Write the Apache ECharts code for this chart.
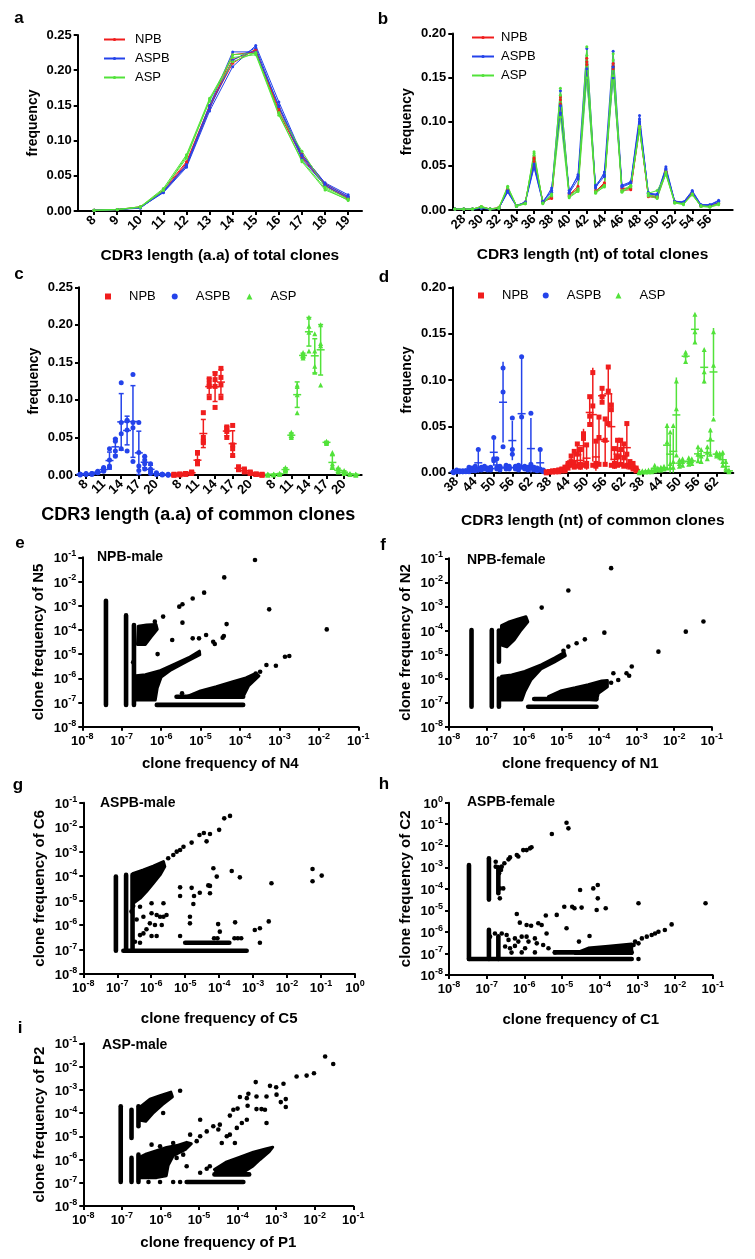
<!DOCTYPE html>
<html><head><meta charset="utf-8">
<script src="https://cdn.jsdelivr.net/npm/echarts@6/dist/echarts.min.js"></script>
<style>html,body{margin:0;padding:0;background:#fff}#c{width:755px;height:1259px}</style>
</head><body><div id="c"></div>
<script>
// ---------------- DATA ----------------
const groups = ['NPB', 'ASPB', 'ASP'];
// panel a: CDR3 aa length, total clones (3 samples per group)
const aCats = [8, 9, 10, 11, 12, 13, 14, 15, 16, 17, 18, 19];
const aNPB = [
  [0.001,0.002,0.005,0.030,0.070,0.150,0.215,0.228,0.142,0.078,0.037,0.018],
  [0.001,0.002,0.005,0.027,0.065,0.145,0.222,0.226,0.146,0.081,0.039,0.020],
  [0.001,0.002,0.006,0.028,0.068,0.148,0.210,0.230,0.140,0.076,0.036,0.017]];
const aASPB = [
  [0.001,0.002,0.005,0.026,0.062,0.142,0.205,0.235,0.155,0.080,0.040,0.023],
  [0.001,0.002,0.004,0.028,0.066,0.150,0.226,0.226,0.150,0.078,0.038,0.021],
  [0.001,0.002,0.005,0.027,0.064,0.146,0.214,0.232,0.148,0.074,0.036,0.019]];
const aASP = [
  [0.001,0.002,0.006,0.032,0.080,0.160,0.218,0.222,0.136,0.072,0.032,0.015],
  [0.001,0.002,0.006,0.030,0.075,0.158,0.212,0.225,0.138,0.070,0.030,0.016],
  [0.001,0.002,0.005,0.029,0.078,0.156,0.222,0.224,0.140,0.085,0.034,0.017]];
const aTicks = [8, 9, 10, 11, 12, 13, 14, 15, 16, 17, 18, 19];

// panel b: CDR3 nt length, total clones
const bCats = [27,28,29,30,31,32,33,34,35,36,37,38,39,40,41,42,43,44,45,46,47,48,49,50,51,52,53,54,55,56,57];
const bNPB = [
  [.001,.001,.001,.003,.001,.002,.024,.005,.008,.055,.009,.015,.128,.016,.025,.172,.022,.028,.166,.024,.025,.095,.016,.015,.043,.009,.008,.019,.005,.005,.008],
  [.001,.001,.001,.004,.001,.002,.022,.004,.009,.060,.010,.013,.120,.018,.023,.165,.020,.030,.160,.022,.023,.092,.015,.014,.042,.009,.007,.018,.004,.004,.007],
  [.001,.001,.001,.003,.001,.003,.023,.005,.008,.058,.009,.014,.125,.017,.027,.168,.021,.031,.163,.025,.024,.094,.017,.015,.044,.010,.008,.019,.005,.005,.008]];
const bASPB = [
  [.001,.001,.001,.002,.001,.002,.022,.005,.009,.052,.010,.022,.135,.020,.040,.183,.025,.043,.180,.028,.032,.107,.018,.017,.049,.010,.009,.021,.006,.006,.010],
  [.001,.001,.001,.002,.001,.002,.020,.004,.008,.048,.008,.025,.110,.022,.038,.150,.028,.040,.150,.026,.030,.100,.020,.016,.046,.009,.008,.020,.005,.005,.009],
  [.001,.001,.001,.003,.001,.002,.021,.005,.009,.050,.009,.020,.118,.019,.035,.160,.026,.038,.162,.027,.031,.103,.019,.018,.047,.010,.009,.022,.006,.006,.011]];
const bASP = [
  [.001,.001,.001,.004,.001,.003,.027,.005,.007,.066,.008,.018,.138,.015,.022,.185,.020,.026,.177,.021,.027,.095,.016,.013,.041,.008,.006,.018,.004,.004,.007],
  [.001,.001,.001,.004,.001,.002,.025,.004,.007,.062,.007,.016,.105,.014,.021,.150,.019,.027,.152,.020,.026,.090,.019,.022,.040,.008,.007,.017,.004,.003,.006],
  [.001,.001,.001,.003,.001,.002,.026,.005,.008,.064,.008,.017,.130,.016,.024,.175,.021,.028,.170,.022,.028,.093,.017,.015,.043,.009,.007,.018,.005,.004,.007]];
const bTicks = [28,30,32,34,36,38,40,42,44,46,48,50,52,54,56];

// panel c: CDR3 aa length of common clones (v = 7..22), 4 samples
const cLens = [7,8,9,10,11,12,13,14,15,16,17,18,19,20,21,22];
const cTickLens = [8, 11, 14, 17, 20];
const cASPB = [[.001,.001,.001,.000],[.001,.002,.001,.001],[.002,.002,.001,.001],[.005,.004,.003,.003],[.010,.008,.006,.005],[.035,.020,.012,.010],[.048,.045,.032,.025],[.123,.055,.070,.035],[.073,.072,.060,.032],[.134,.070,.063,.018],[.070,.030,.012,.006],[.025,.020,.015,.008],[.015,.008,.005,.002],[.003,.002,.001,.001],[.001,.001,.001,.000],[.001,.000,.000,.000]];
const cNPB = [[.000,.000,.001,.000],[.001,.001,.001,.000],[.002,.002,.001,.001],[.004,.003,.003,.002],[.030,.018,.016,.015],[.083,.043,.045,.050],[.128,.118,.103,.122],[.135,.127,.090,.118],[.142,.130,.103,.120],[.064,.062,.058,.050],[.066,.040,.026,.035],[.011,.010,.008,.007],[.008,.006,.005,.004],[.004,.003,.002,.002],[.001,.001,.001,.001],[.001,.000,.000,.000]];
const cASP = [[.001,.001,.000,.000],[.001,.001,.001,.000],[.002,.002,.001,.001],[.010,.008,.006,.005],[.057,.052,.050,.053],[.120,.118,.083,.107],[.163,.158,.160,.156],[.210,.198,.165,.190],[.188,.165,.137,.145],[.200,.172,.120,.175],[.045,.044,.043,.042],[.030,.015,.010,.012],[.010,.006,.005,.004],[.006,.004,.003,.002],[.002,.001,.001,.001],[.001,.001,.000,.000]];

// panel d: CDR3 nt length of common clones (v = 37..66), 3 samples
const dLens = [37,38,39,40,41,42,43,44,45,46,47,48,49,50,51,52,53,54,55,56,57,58,59,60,61,62,63,64,65,66];
const dTickLens = [38, 44, 50, 56, 62];
const dASPB = [[.001,.001,.000],[.003,.001,.001],[.002,.001,.001],[.002,.001,.001],[.002,.002,.001],[.006,.002,.001],[.005,.003,.002],[.007,.004,.002],[.025,.004,.003],[.006,.005,.003],[.007,.005,.004],[.005,.004,.003],[.006,.004,.003],[.038,.015,.013],[.015,.006,.004],[.007,.005,.003],[.113,.087,.028],[.008,.006,.004],[.007,.005,.004],[.059,.025,.020],[.007,.006,.004],[.008,.005,.003],[.125,.060,.006],[.007,.005,.004],[.006,.005,.003],[.064,.009,.005],[.006,.004,.003],[.005,.003,.002],[.025,.004,.003],[.003,.002,.001]];
const dNPB = [[.001,.000,.000],[.001,.001,.001],[.002,.001,.001],[.002,.002,.001],[.003,.002,.001],[.004,.003,.002],[.006,.003,.002],[.010,.008,.005],[.018,.012,.008],[.023,.010,.006],[.031,.020,.007],[.025,.009,.006],[.042,.037,.008],[.030,.010,.007],[.082,.061,.052],[.108,.072,.008],[.034,.010,.007],[.060,.038,.009],[.091,.082,.076],[.058,.035,.009],[.114,.088,.053],[.073,.068,.008],[.026,.010,.007],[.035,.017,.008],[.035,.025,.009],[.031,.016,.007],[.053,.020,.008],[.012,.008,.006],[.010,.006,.004],[.005,.003,.002]];
const dASP = [[.001,.001,.000],[.002,.001,.001],[.002,.001,.001],[.003,.002,.001],[.003,.002,.001],[.008,.004,.002],[.005,.004,.003],[.006,.005,.003],[.007,.005,.004],[.051,.033,.005],[.044,.010,.006],[.051,.012,.006],[.099,.069,.019],[.014,.010,.007],[.015,.012,.008],[.130,.127,.120],[.016,.012,.009],[.015,.013,.010],[.171,.152,.141],[.028,.020,.013],[.025,.018,.012],[.133,.109,.099],[.028,.022,.015],[.046,.037,.020],[.152,.116,.058],[.022,.020,.018],[.021,.019,.017],[.022,.012,.008],[.012,.005,.003],[.003,.002,.001]];

// panels e-i: log10(clone frequency). cols: [log x, log y from, log y to] (dense columns of points)
// rows: [log x from, log x to, log y] (dense rows), blobs: dense regions (outline, log units), pts: single clones
const eCols = [[-7.40,-7.10,-2.80],[-6.89,-7.10,-3.40],[-6.69,-7.10,-3.80]];
const eRows = [[-6.11,-3.92,-7.10],[-5.61,-3.92,-6.76]];
const eBlobs = [
  [[-6.60,-4.60],[-6.58,-3.85],[-6.37,-3.80],[-6.13,-3.78],[-6.10,-3.98],[-6.26,-4.30],[-6.40,-4.60]],
  [[-6.70,-6.90],[-6.70,-5.90],[-6.40,-5.85],[-6.05,-5.70],[-5.70,-5.45],[-5.30,-5.15],[-5.03,-4.88],[-5.02,-5.02],[-5.35,-5.30],[-5.75,-5.65],[-6.00,-5.95],[-6.10,-6.40],[-6.15,-6.90]],
  [[-5.35,-6.76],[-5.00,-6.52],[-4.60,-6.35],[-4.20,-6.15],[-3.85,-5.98],[-3.60,-5.80],[-3.52,-5.90],[-3.78,-6.30],[-3.92,-6.76]]];
const ePts = [[-3.62,-1.11],[-4.40,-1.83],[-4.91,-2.46],[-5.20,-2.70],[-5.46,-2.94],[-5.54,-3.04],[-5.95,-3.45],[-6.16,-3.66],[-5.46,-3.70],[-4.34,-3.76],[-3.26,-3.15],[-1.80,-3.98],[-5.72,-4.42],[-5.20,-4.35],[-5.04,-4.35],[-4.86,-4.21],[-4.68,-4.49],[-4.64,-4.58],[-4.44,-4.32],[-4.41,-4.25],[-6.09,-5.00],[-2.86,-5.11],[-2.75,-5.08],[-3.33,-5.45],[-3.09,-5.48],[-3.60,-5.80],[-3.49,-5.73],[-5.47,-6.62],[-6.71,-5.34]];

const fCols = [[-7.40,-7.17,-3.98],[-6.86,-7.17,-3.98],[-6.67,-7.17,-6.00],[-6.67,-5.30,-4.00]];
const fRows = [[-5.89,-4.07,-7.17],[-5.73,-4.07,-6.85]];
const fBlobs = [
  [[-6.62,-4.60],[-6.60,-3.80],[-6.42,-3.66],[-6.15,-3.52],[-5.95,-3.43],[-5.90,-3.64],[-6.08,-3.98],[-6.26,-4.38],[-6.46,-4.68]],
  [[-6.60,-6.89],[-6.60,-5.90],[-6.33,-5.85],[-5.98,-5.70],[-5.53,-5.42],[-5.18,-5.14],[-4.93,-4.92],[-4.90,-5.05],[-5.20,-5.32],[-5.55,-5.60],[-5.82,-6.06],[-5.98,-6.54],[-6.06,-6.89]],
  [[-5.35,-6.75],[-5.00,-6.50],[-4.64,-6.38],[-4.29,-6.25],[-3.93,-6.10],[-3.78,-6.08],[-3.78,-6.34],[-4.02,-6.61],[-4.07,-6.89]]];
const fPts = [[-3.68,-1.41],[-4.82,-2.34],[-5.53,-3.05],[-3.86,-4.09],[-4.38,-4.37],[-4.60,-4.53],[-4.82,-4.67],[-4.95,-4.84],[-1.22,-3.63],[-1.69,-4.05],[-2.42,-4.88],[-3.13,-5.50],[-3.27,-5.78],[-3.20,-5.88],[-3.62,-5.78],[-3.49,-6.06],[-3.68,-6.17],[-3.83,-6.16]];

const gCols = [[-7.04,-7.05,-4.02],[-6.74,-7.05,-3.95],[-6.55,-7.05,-3.95]];
const gRows = [[-6.82,-3.19,-7.05],[-5.00,-3.70,-6.72]];
const gBlobs = [
  [[-6.53,-3.89],[-6.23,-3.75],[-5.94,-3.59],[-5.64,-3.41],[-5.60,-3.61],[-5.74,-3.95],[-5.94,-4.29],[-6.14,-4.63],[-6.33,-4.91],[-6.53,-5.11]]];
const gPts = [[-3.68,-1.54],[-3.85,-1.64],[-4.00,-2.11],[-4.27,-2.28],[-4.45,-2.24],[-4.58,-2.32],[-4.37,-2.58],[-4.81,-2.63],[-5.15,-2.93],[-5.35,-3.14],[-5.50,-3.27],[-5.25,-3.00],[-5.05,-2.80],
  [-4.17,-3.68],[-4.07,-4.02],[-3.63,-3.79],[-3.39,-4.05],[-1.25,-3.71],[-1.25,-4.21],[-0.98,-3.98],[-2.46,-4.29],[-5.15,-4.46],[-4.81,-4.48],[-4.74,-4.81],[-4.76,-5.14],[-4.57,-4.68],[-4.32,-4.38],[-4.27,-4.40],[-4.27,-4.70],[-5.15,-4.81],[-4.86,-5.66],[-4.86,-5.93],[-4.03,-5.96],[-3.98,-6.27],[-3.53,-5.89],[-2.95,-6.20],[-2.80,-6.13],[-2.54,-5.85],[-2.80,-6.72],[-5.15,-6.45],[-5.64,-5.11],
  [-5.99,-5.11],[-5.84,-5.59],[-6.23,-5.66],[-6.04,-5.93],[-5.89,-6.00],[-6.33,-6.41],[-5.99,-6.45],[-5.74,-5.66],[-5.55,-5.59],[-5.69,-6.00],[-6.53,-5.22],[-6.33,-5.25],[-6.58,-5.45],[-6.43,-5.77],[-6.14,-6.17],[-6.48,-6.68],[-6.33,-6.72],[-6.23,-6.34],[-5.84,-6.45],[-5.99,-5.52],[-5.64,-5.66],
  [-3.55,-6.54],[-3.45,-6.54],[-3.35,-6.54],[-4.15,-6.54],[-4.05,-6.54]];

const hCols = [[-7.47,-7.26,-2.89],[-6.94,-7.26,-5.90],[-6.94,-4.50,-2.58],[-6.69,-7.26,-6.20],[-6.69,-4.20,-3.00]];
const hRows = [[-7.47,-3.15,-7.26],[-5.19,-3.15,-6.95]];
const hBlobs = [[[-4.65,-7.00],[-4.30,-6.75],[-3.77,-6.66],[-3.15,-6.56],[-3.15,-7.00]]];
const hPts = [[-6.62,-3.12],[-6.60,-2.97],[-6.53,-2.81],[-6.42,-2.63],[-6.38,-2.54],[-6.20,-2.43],[-6.16,-2.50],[-6.03,-2.20],[-5.94,-2.20],[-5.85,-2.12],[-5.81,-2.07],[-6.76,-2.74],[-6.76,-2.97],[-6.67,-3.28],[-6.65,-3.98],[-6.56,-3.98],[-6.65,-4.44],
  [-4.88,-0.93],[-4.83,-1.19],[-5.27,-1.45],[-4.52,-4.05],[-4.17,-3.98],[-4.05,-3.82],[-4.05,-4.44],[-4.08,-4.98],[-3.84,-4.90],[-2.97,-4.67],[-1.19,-4.67],[-4.94,-4.83],[-4.73,-4.83],[-4.67,-4.90],[-4.48,-4.87],[-5.43,-5.24],[-5.14,-5.21],[-6.20,-5.17],[-6.12,-5.57],[-5.94,-5.68],[-5.82,-5.71],[-5.63,-5.60],[-5.54,-5.68],[-4.88,-5.83],[-5.41,-6.07],[-4.27,-6.19],[-4.55,-6.45],[-5.72,-6.30],[-5.67,-6.53],[-5.50,-6.61],[-5.36,-6.76],[-6.07,-6.95],[-5.72,-6.95],[-5.19,-6.95],
  [-6.91,-6.22],[-6.78,-6.07],[-6.60,-6.07],[-6.47,-6.14],[-6.42,-6.37],[-6.25,-6.30],[-6.16,-6.45],[-6.07,-6.22],[-5.94,-6.22],[-5.89,-6.45],[-6.51,-6.68],[-6.38,-6.76],[-6.25,-6.65],[-5.98,-6.76],[-6.34,-6.96],
  [-3.06,-6.45],[-2.88,-6.30],[-2.62,-6.14],[-2.44,-5.99],[-2.27,-5.91],[-2.09,-5.65],[-2.75,-6.22],[-2.53,-6.07],[-3.10,-6.61],[-2.97,-6.53],[-2.97,-7.26]];

const iCols = [[-7.03,-6.97,-3.71],[-6.75,-6.97,-5.93],[-6.75,-5.07,-3.86],[-6.57,-6.97,-5.79],[-6.57,-4.57,-3.71]];
const iRows = [[-5.32,-3.85,-6.97],[-4.60,-3.70,-6.64]];
const iBlobs = [
  [[-6.55,-4.30],[-6.53,-3.75],[-6.27,-3.40],[-6.01,-3.25],[-5.73,-3.10],[-5.69,-3.30],[-5.95,-3.64],[-6.18,-3.98],[-6.38,-4.35]],
  [[-6.53,-5.90],[-6.36,-5.76],[-6.10,-5.62],[-5.84,-5.48],[-5.58,-5.40],[-5.32,-5.26],[-5.20,-5.32],[-5.34,-5.55],[-5.67,-5.84],[-5.80,-6.25],[-5.85,-6.70],[-6.10,-6.78],[-6.53,-6.78]],
  [[-4.60,-6.43],[-4.28,-6.10],[-3.94,-5.90],[-3.59,-5.68],[-3.25,-5.53],[-3.09,-5.47],[-3.18,-5.66],[-3.42,-6.00],[-3.60,-6.28],[-3.85,-6.55],[-4.11,-6.62],[-4.52,-6.62]]];
const iPts = [[-1.73,-1.57],[-1.52,-1.89],[-2.02,-2.29],[-2.21,-2.39],[-2.47,-2.43],[-2.81,-2.74],[-3.00,-2.89],[-3.16,-2.83],[-3.53,-2.67],[-2.75,-3.40],[-2.75,-3.74],[-2.88,-3.53],[-2.99,-3.21],[-3.25,-3.29],[-3.51,-3.29],[-3.72,-3.17],[-3.76,-3.36],[-3.94,-3.31],[-3.38,-3.83],[-3.25,-4.43],[-3.29,-3.86],[-3.51,-3.83],[-3.74,-3.69],[-4.00,-3.81],[-4.11,-3.86],[-4.20,-4.11],[-4.02,-4.64],[-3.89,-4.43],[-3.76,-4.29],[-4.28,-5.00],[-4.20,-4.93],[-4.41,-5.29],[-4.07,-5.29],[-4.50,-4.71],[-4.63,-4.57],[-4.80,-4.79],[-4.97,-4.29],[-4.46,-4.50],[-5.49,-3.04],[-5.93,-4.00],[-5.23,-4.93],[-5.06,-5.21],[-4.97,-5.00],[-5.58,-5.93],[-5.41,-5.79],[-5.32,-6.29],[-6.23,-5.36],[-6.01,-5.43],[-5.67,-5.29],[-4.97,-6.57],[-4.80,-6.40],[-4.72,-6.29],[-6.31,-6.97],[-6.01,-6.97],[-5.67,-6.97],[-5.49,-6.97]];

// ---------------- STYLE / LAYOUT ----------------
const RED = '#f01d1d', BLUE = '#2443ea', GREEN = '#52e23a';
const COL = {NPB: RED, ASPB: BLUE, ASP: GREEN};
const FONT = 'Liberation Sans';
const grids = [
  {left: 77.7, top: 35, width: 284.3, height: 176},     // a
  {left: 452.3, top: 33.5, width: 280.4, height: 176.5},// b
  {left: 79, top: 287.3, width: 282.7, height: 187.7},  // c
  {left: 452.3, top: 287.3, width: 281, height: 185.4}, // d
  {left: 82.3, top: 557.3, width: 276, height: 169.4},  // e
  {left: 449, top: 558.3, width: 262.7, height: 168.4}, // f
  {left: 83.3, top: 802.7, width: 271.7, height: 171.3},// g
  {left: 449, top: 802.7, width: 263.7, height: 172.3}, // h
  {left: 83.3, top: 1043.3, width: 270, height: 162.7}  // i
];
const axLine = {show: true, onZero: false, lineStyle: {color: '#000', width: 2}};
const axTick = {show: true, length: 4, lineStyle: {color: '#000', width: 2}};
const lblBold = {color: '#000', fontFamily: FONT, fontWeight: 'bold', fontSize: 13};
const nameStyle = {color: '#000', fontFamily: FONT, fontWeight: 'bold', fontSize: 14};
const titleStyle = {color: '#000', fontFamily: FONT, fontWeight: 'bold', fontSize: 15.5};
const sNameStyle = {color: '#000', fontFamily: FONT, fontWeight: 'bold', fontSize: 15};

function freqY(gi, max, name) {
  return {type: 'value', gridIndex: gi, min: 0, max: max, interval: 0.05,
    axisLine: axLine, axisTick: axTick, splitLine: {show: false},
    axisLabel: Object.assign({margin: 6, formatter: v => v.toFixed(2)}, lblBold),
    name: name, nameLocation: 'middle', nameGap: 38, nameTextStyle: nameStyle};
}
// tick labels: the axis ends carry empty labels so that no real label is dropped as overlapping
function catX(gi, min, max, ticks, lblOf, name, gap, nstyle) {
  const lblVals = [min].concat(ticks, [max]);
  return {type: 'value', gridIndex: gi, min: min, max: max,
    axisLine: axLine, axisTick: Object.assign({customValues: ticks}, axTick), splitLine: {show: false},
    axisLabel: Object.assign({customValues: lblVals, rotate: 45, margin: 7,
      formatter: v => (ticks.indexOf(v) >= 0 ? lblOf(v) : ''),
      showMinLabel: true, showMaxLabel: true, hideOverlap: false}, lblBold),
    name: name, nameLocation: 'middle', nameGap: gap, nameTextStyle: nstyle || titleStyle};
}
const expRich = {b: {fontSize: 13, fontWeight: 'bold', fontFamily: FONT, color: '#000', lineHeight: 16, verticalAlign: 'bottom'},
                 s: {fontSize: 9, fontWeight: 'bold', fontFamily: FONT, color: '#000', lineHeight: 16, verticalAlign: 'top', padding: [0, 0, 4, 0]}};
function expFmt(v) { return '{b|10}{s|' + v + '}'; }
function logAx(gi, min, max, name, gap, isY) {
  return {type: 'value', gridIndex: gi, min: min, max: max, interval: 1,
    axisLine: axLine, axisTick: axTick, splitLine: {show: false},
    axisLabel: {margin: isY ? 6 : 5, formatter: expFmt, rich: expRich, showMinLabel: true, showMaxLabel: true},
    name: name, nameLocation: 'middle', nameGap: gap, nameTextStyle: sNameStyle};
}

const xAxes = [
  catX(0, 7.29, 19.6, aTicks, v => String(v), 'CDR3 length (a.a) of total clones', 37),
  catX(1, 26.7, 58.6, bTicks, v => String(v), 'CDR3 length (nt) of total clones', 37),
];
const yAxes = [freqY(0, 0.25, 'frequency'), freqY(1, 0.20, 'frequency'), freqY(2, 0.25, 'frequency'), freqY(3, 0.20, 'frequency')];

// c / d grouped position axes (group order: ASPB, NPB, ASP)
const cOrder = [['ASPB', cASPB], ['NPB', cNPB], ['ASP', cASP]];
const dOrder = [['ASPB', dASPB], ['NPB', dNPB], ['ASP', dASP]];
const cTickPos = [], cTickLbl = {};
[0, 1, 2].forEach(g => cTickLens.forEach(v => { const p = g * 16 + (v - 8); cTickPos.push(p); cTickLbl[p] = v; }));
const dTickPos = [], dTickLbl = {};
[0, 1, 2].forEach(g => dTickLens.forEach(v => { const p = g * 30 + (v - 38); dTickPos.push(p); dTickLbl[p] = v; }));
const cTitle = {color: '#000', fontFamily: FONT, fontWeight: 'bold', fontSize: 18, padding: [0, 44, 0, 0]};
xAxes.push(catX(2, -1.2, 47, cTickPos, v => String(cTickLbl[v]), 'CDR3 length (a.a) of common clones', 31, cTitle));
xAxes.push(catX(3, -1.4, 89.4, dTickPos, v => String(dTickLbl[v]), 'CDR3 length (nt) of common clones', 40, titleStyle));

// scatter panels
xAxes.push(logAx(4, -8, -1, 'clone frequency of N4', 30, false));
yAxes.push(logAx(4, -8, -1, 'clone frequency of N5', 36, true));
xAxes.push(logAx(5, -8, -1, 'clone frequency of N1', 30, false));
yAxes.push(logAx(5, -8, -1, 'clone frequency of N2', 36, true));
xAxes.push(logAx(6, -8, 0, 'clone frequency of C5', 37, false));
yAxes.push(logAx(6, -8, -1, 'clone frequency of C6', 36, true));
xAxes.push(logAx(7, -8, -1, 'clone frequency of C1', 37, false));
yAxes.push(logAx(7, -8, 0, 'clone frequency of C2', 36, true));
xAxes.push(logAx(8, -8, -1, 'clone frequency of P1', 29, false));
yAxes.push(logAx(8, -8, -1, 'clone frequency of P2', 36, true));

const series = [];
// panel a & b lines
function addLines(ai, cats, sets, prefix) {
  sets.forEach(([g, arr]) => arr.forEach(vals => series.push({
    type: 'line', name: prefix + g, xAxisIndex: ai, yAxisIndex: ai,
    data: cats.map((c, i) => [c, vals[i]]), symbol: 'circle', symbolSize: 3, showSymbol: true,
    lineStyle: {width: 1, color: COL[g]}, itemStyle: {color: COL[g]}, silent: true, animation: false})));
}
addLines(0, aCats, [['NPB', aNPB], ['ASPB', aASPB], ['ASP', aASP]], 'a:');
addLines(1, bCats, [['NPB', bNPB], ['ASPB', bASPB], ['ASP', bASP]], 'b:');

// panel c & d scatter + mean ± SD
const SYM = {NPB: 'rect', ASPB: 'circle', ASP: 'triangle'};
function meanSd(a) { const m = a.reduce((s, x) => s + x, 0) / a.length; const sd = Math.sqrt(a.reduce((s, x) => s + (x - m) * (x - m), 0) / (a.length - 1)); return [m, sd]; }
function addGrouped(ai, order, lens, span, base, prefix, caps) {
  order.forEach(([g, rows], gi) => {
    const pts = [], stats = [];
    rows.forEach((samples, j) => {
      const pos = gi * span + (lens[j] - base);
      samples.forEach(s => pts.push([pos, s]));
      const ms = meanSd(samples); stats.push([pos, ms[0], ms[1]]);
    });
    series.push({type: 'scatter', name: prefix + g, xAxisIndex: ai, yAxisIndex: ai, data: pts,
      symbol: SYM[g], symbolSize: 5, itemStyle: {color: COL[g], opacity: 1}, silent: true, animation: false});
    series.push({type: 'custom', name: prefix + g + ' mean', xAxisIndex: ai, yAxisIndex: ai, data: stats,
      encode: {x: 0, y: 1}, silent: true, animation: false,
      renderItem: (p, api) => {
        const x = api.value(0), m = api.value(1), sd = api.value(2);
        const top = api.coord([x, m + sd]), bot = api.coord([x, Math.max(0, m - sd)]), mid = api.coord([x, m]);
        const kids = [
          {type: 'line', shape: {x1: top[0], y1: top[1], x2: bot[0], y2: bot[1]}, style: {stroke: COL[g], lineWidth: 1.5}},
          {type: 'line', shape: {x1: mid[0] - 4, y1: mid[1], x2: mid[0] + 4, y2: mid[1]}, style: {stroke: COL[g], lineWidth: 1.5}}];
        if (caps) {
          kids.push({type: 'line', shape: {x1: top[0] - 2.5, y1: top[1], x2: top[0] + 2.5, y2: top[1]}, style: {stroke: COL[g], lineWidth: 1.5}});
          kids.push({type: 'line', shape: {x1: bot[0] - 2.5, y1: bot[1], x2: bot[0] + 2.5, y2: bot[1]}, style: {stroke: COL[g], lineWidth: 1.5}});
        }
        return {type: 'group', children: kids};
      }});
  });
}
addGrouped(2, cOrder, cLens, 16, 8, 'c:', true);
addGrouped(3, dOrder, dLens, 30, 38, 'd:', false);

// scatter panels
function addClones(ai, cols, rows, blobs, pts) {
  const DOT = 4.6;
  series.push({type: 'custom', xAxisIndex: ai, yAxisIndex: ai, data: cols, encode: {x: 0, y: [1, 2]}, silent: true, animation: false,
    renderItem: (p, api) => { const a = api.coord([api.value(0), api.value(1)]), b = api.coord([api.value(0), api.value(2)]);
      return {type: 'line', shape: {x1: a[0], y1: a[1], x2: b[0], y2: b[1]}, style: {stroke: '#000', lineWidth: DOT, lineCap: 'round'}}; }});
  series.push({type: 'custom', xAxisIndex: ai, yAxisIndex: ai, data: rows, encode: {x: [0, 1], y: 2}, silent: true, animation: false,
    renderItem: (p, api) => { const a = api.coord([api.value(0), api.value(2)]), b = api.coord([api.value(1), api.value(2)]);
      return {type: 'line', shape: {x1: a[0], y1: a[1], x2: b[0], y2: b[1]}, style: {stroke: '#000', lineWidth: DOT, lineCap: 'round'}}; }});
  series.push({type: 'custom', xAxisIndex: ai, yAxisIndex: ai, data: blobs.map(b => b[0]), encode: {x: 0, y: 1}, silent: true, animation: false,
    renderItem: (p, api) => { const poly = blobs[p.dataIndex].map(v => api.coord(v));
      return {type: 'polygon', shape: {points: poly}, style: {fill: '#000', stroke: '#000', lineWidth: 3, lineJoin: 'round'}}; }});
  series.push({type: 'scatter', xAxisIndex: ai, yAxisIndex: ai, data: pts, symbol: 'circle', symbolSize: DOT,
    itemStyle: {color: '#000', opacity: 1}, silent: true, animation: false});
}
addClones(4, eCols, eRows, eBlobs, ePts);
addClones(5, fCols, fRows, fBlobs, fPts);
addClones(6, gCols, gRows, gBlobs, gPts);
addClones(7, hCols, hRows, hBlobs, hPts);
addClones(8, iCols, iRows, iBlobs, iPts);

const legTxt = {color: '#000', fontFamily: FONT, fontSize: 13};
function legItems(prefix) {
  return groups.map(g => ({name: prefix + g, icon: SYM[g], itemStyle: {color: COL[g]}}));
}
const legends = [
  {data: ['a:NPB', 'a:ASPB', 'a:ASP'], orient: 'vertical', left: 98, top: 28, itemWidth: 21, itemHeight: 4, itemGap: 6,
   formatter: n => n.slice(2), textStyle: Object.assign({padding: [0, 0, 0, 5]}, legTxt), selectedMode: false},
  {data: ['b:NPB', 'b:ASPB', 'b:ASP'], orient: 'vertical', left: 466, top: 26, itemWidth: 22, itemHeight: 4, itemGap: 6,
   formatter: n => n.slice(2), textStyle: Object.assign({padding: [0, 0, 0, 2]}, legTxt), selectedMode: false},
  {data: legItems('c:'), orient: 'horizontal', left: 100, top: 285, itemWidth: 6, itemHeight: 6, itemGap: 16,
   formatter: n => n.slice(2), textStyle: Object.assign({padding: [0, 0, 0, 13]}, legTxt), selectedMode: false},
  {data: legItems('d:'), orient: 'horizontal', left: 473, top: 284, itemWidth: 6, itemHeight: 6, itemGap: 14,
   formatter: n => n.slice(2), textStyle: Object.assign({padding: [0, 0, 0, 13]}, legTxt), selectedMode: false}
];

function txt(x, y, s, font, align) {
  return {type: 'text', x: x, y: y, silent: true,
    style: {text: s, font: font, fill: '#000', align: align || 'center', verticalAlign: 'middle', textAlign: align || 'center', textVerticalAlign: 'middle'}};
}
const LET = 'bold 17px "Liberation Sans"';
const TAG = 'bold 14px "Liberation Sans"';
const graphics = [
  txt(19, 18, 'a', LET), txt(383, 19, 'b', LET), txt(19, 274, 'c', LET), txt(384, 277, 'd', LET),
  txt(20, 543, 'e', LET), txt(383, 545, 'f', LET), txt(18, 785, 'g', LET), txt(384, 784, 'h', LET), txt(20, 1028, 'i', LET),
  txt(97, 557, 'NPB-male', TAG, 'left'), txt(467, 560, 'NPB-female', TAG, 'left'), txt(100, 803, 'ASPB-male', TAG, 'left'),
  txt(467, 802, 'ASPB-female', TAG, 'left'), txt(102, 1045, 'ASP-male', TAG, 'left')
];

const chart = echarts.init(document.getElementById('c'), null, {renderer: 'canvas'});
chart.setOption({
  backgroundColor: '#fff', animation: false,
  grid: grids, xAxis: xAxes, yAxis: yAxes, series: series, legend: legends, graphic: graphics
});
</script></body></html>
